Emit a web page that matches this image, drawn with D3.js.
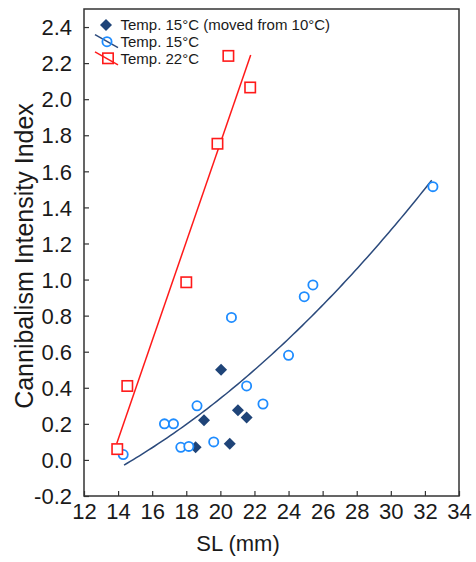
<!DOCTYPE html>
<html>
<head>
<meta charset="utf-8">
<script src="https://cdn.jsdelivr.net/npm/d3@7"></script>
<style>
  html, body { margin: 0; padding: 0; background: #fff; }
  svg { display: block; font-family: "Liberation Sans", Arial, sans-serif; }
</style>
</head>
<body>
<svg id="chart" width="476" height="562"></svg>
<script>
// ---- data ----
const movedX = [18.55, 19.04, 20.04, 20.55, 21.03, 21.54];
const movedY = [0.07, 0.22, 0.50, 0.09, 0.275, 0.235];

const t15X = [14.3, 16.72, 17.25, 17.68, 18.15, 18.63, 19.61, 20.65, 21.54, 22.5, 24.0, 24.92, 25.43, 32.47];
const t15Y = [0.03, 0.20, 0.20, 0.07, 0.075, 0.30, 0.10, 0.79, 0.41, 0.31, 0.58, 0.905, 0.97, 1.515];

const t22X = [13.95, 14.54, 18.0, 19.83, 20.47, 21.75];
const t22Y = [0.06, 0.41, 0.985, 1.753, 2.24, 2.065];

// fitted trend lines (coefficients)
const fit15Coef = [-0.455, 0.00414, 0.001783];   // a + b x + c x^2
const fit15Range = [14.35, 32.4];
const fit22Coef = [-3.721, 0.2739];              // a + b x
const fit22Range = [13.92, 21.78];

const xTicks = [12, 14, 16, 18, 20, 22, 24, 26, 28, 30, 32, 34];
const yTicks = [-0.2, 0.0, 0.2, 0.4, 0.6, 0.8, 1.0, 1.2, 1.4, 1.6, 1.8, 2.0, 2.2, 2.4];

const legendLabels = ["Temp. 15°C (moved from 10°C)", "Temp. 15°C", "Temp. 22°C"];
const xTitle = "SL (mm)";
const yTitle = "Cannibalism Intensity Index";

// ---- layout ----
const L = 84, R = 459, T = 9, B = 496;
const svg = d3.select("#chart");
const x = d3.scaleLinear().domain([12, 34]).range([L, R]);
const y = d3.scaleLinear().domain([-0.2, 2.5]).range([B, T]);

const RED = "#ff1a1a", BLUE = "#1e8cff", NAVY = "#1f4478", LINEBLUE = "#2b4a7c";
const TEXT = "#1a1a1a", FRAME = "#333";

// axes
const xAxis = svg.append("g").attr("transform", `translate(0,${B})`)
  .call(d3.axisBottom(x).tickValues(xTicks).tickSizeInner(-5).tickSizeOuter(0).tickFormat(d3.format("d")));
const yAxis = svg.append("g").attr("transform", `translate(${L},0)`)
  .call(d3.axisLeft(y).tickValues(yTicks).tickSizeInner(-5).tickSizeOuter(0).tickPadding(12)
    .tickFormat(d => d3.format(".1f")(d).replace("−", "-")));

[xAxis, yAxis].forEach(g => {
  g.select(".domain").remove();
  g.selectAll(".tick line").attr("stroke", FRAME).attr("stroke-width", 1.2);
  g.selectAll(".tick text").attr("fill", TEXT).style("font-size", "22px");
});
xAxis.selectAll(".tick text").attr("y", 23).attr("dy", 0);
yAxis.selectAll(".tick text").attr("dy", "0.35em");

// frame
svg.append("rect").attr("x", L).attr("y", T).attr("width", R - L).attr("height", B - T)
  .attr("fill", "none").attr("stroke", FRAME).attr("stroke-width", 1.5);

// titles
svg.append("text").attr("x", 238).attr("y", 551).attr("text-anchor", "middle")
  .attr("fill", TEXT).style("font-size", "22px").text(xTitle);
svg.append("text").attr("transform", "translate(33,256) rotate(-90)").attr("text-anchor", "middle")
  .attr("fill", TEXT).style("font-size", "25px").text(yTitle);

// fit lines
const line = d3.line().x(d => x(d[0])).y(d => y(d[1]));
const samples15 = d3.range(0, 101).map(i => {
  const xv = fit15Range[0] + (fit15Range[1] - fit15Range[0]) * i / 100;
  return [xv, fit15Coef[0] + fit15Coef[1] * xv + fit15Coef[2] * xv * xv];
});
svg.append("path").attr("d", line(samples15)).attr("fill", "none")
  .attr("stroke", LINEBLUE).attr("stroke-width", 1.5);
const samples22 = fit22Range.map(xv => [xv, fit22Coef[0] + fit22Coef[1] * xv]);
svg.append("path").attr("d", line(samples22)).attr("fill", "none")
  .attr("stroke", RED).attr("stroke-width", 1.5);

// points
const diamond = d3.symbol().type(d3.symbolSquare).size(72);
svg.append("g").selectAll("path").data(d3.zip(movedX, movedY)).join("path")
  .attr("d", diamond)
  .attr("transform", d => `translate(${x(d[0])},${y(d[1])}) rotate(45)`)
  .attr("fill", NAVY);

svg.append("g").selectAll("circle").data(d3.zip(t15X, t15Y)).join("circle")
  .attr("cx", d => x(d[0])).attr("cy", d => y(d[1])).attr("r", 4.6)
  .attr("fill", "#fff").attr("stroke", BLUE).attr("stroke-width", 1.8);

svg.append("g").selectAll("rect").data(d3.zip(t22X, t22Y)).join("rect")
  .attr("x", d => x(d[0]) - 5.2).attr("y", d => y(d[1]) - 5.2)
  .attr("width", 10.4).attr("height", 10.4)
  .attr("fill", "#fff").attr("stroke", RED).attr("stroke-width", 1.6);

// legend
const lg = svg.append("g");
const rows = [25, 41.7, 58.3];
lg.append("path").attr("d", diamond).attr("transform", `translate(106,${rows[0]}) rotate(45)`).attr("fill", NAVY);
lg.append("line").attr("x1", 95).attr("y1", rows[1] - 7).attr("x2", 118).attr("y2", rows[1] + 6)
  .attr("stroke", LINEBLUE).attr("stroke-width", 1.5);
lg.append("circle").attr("cx", 107).attr("cy", rows[1]).attr("r", 4.6)
  .attr("fill", "none").attr("stroke", BLUE).attr("stroke-width", 1.8);
lg.append("line").attr("x1", 95).attr("y1", rows[2] - 6.5).attr("x2", 118).attr("y2", rows[2] + 6.5)
  .attr("stroke", RED).attr("stroke-width", 1.5);
lg.append("rect").attr("x", 108 - 5.2).attr("y", rows[2] - 5.2).attr("width", 10.4).attr("height", 10.4)
  .attr("fill", "none").attr("stroke", RED).attr("stroke-width", 1.6);
lg.selectAll("text").data(legendLabels).join("text")
  .attr("x", 120.5).attr("y", (d, i) => rows[i] + 5.3)
  .attr("fill", TEXT).style("font-size", "15px").text(d => d);
</script>
</body>
</html>
